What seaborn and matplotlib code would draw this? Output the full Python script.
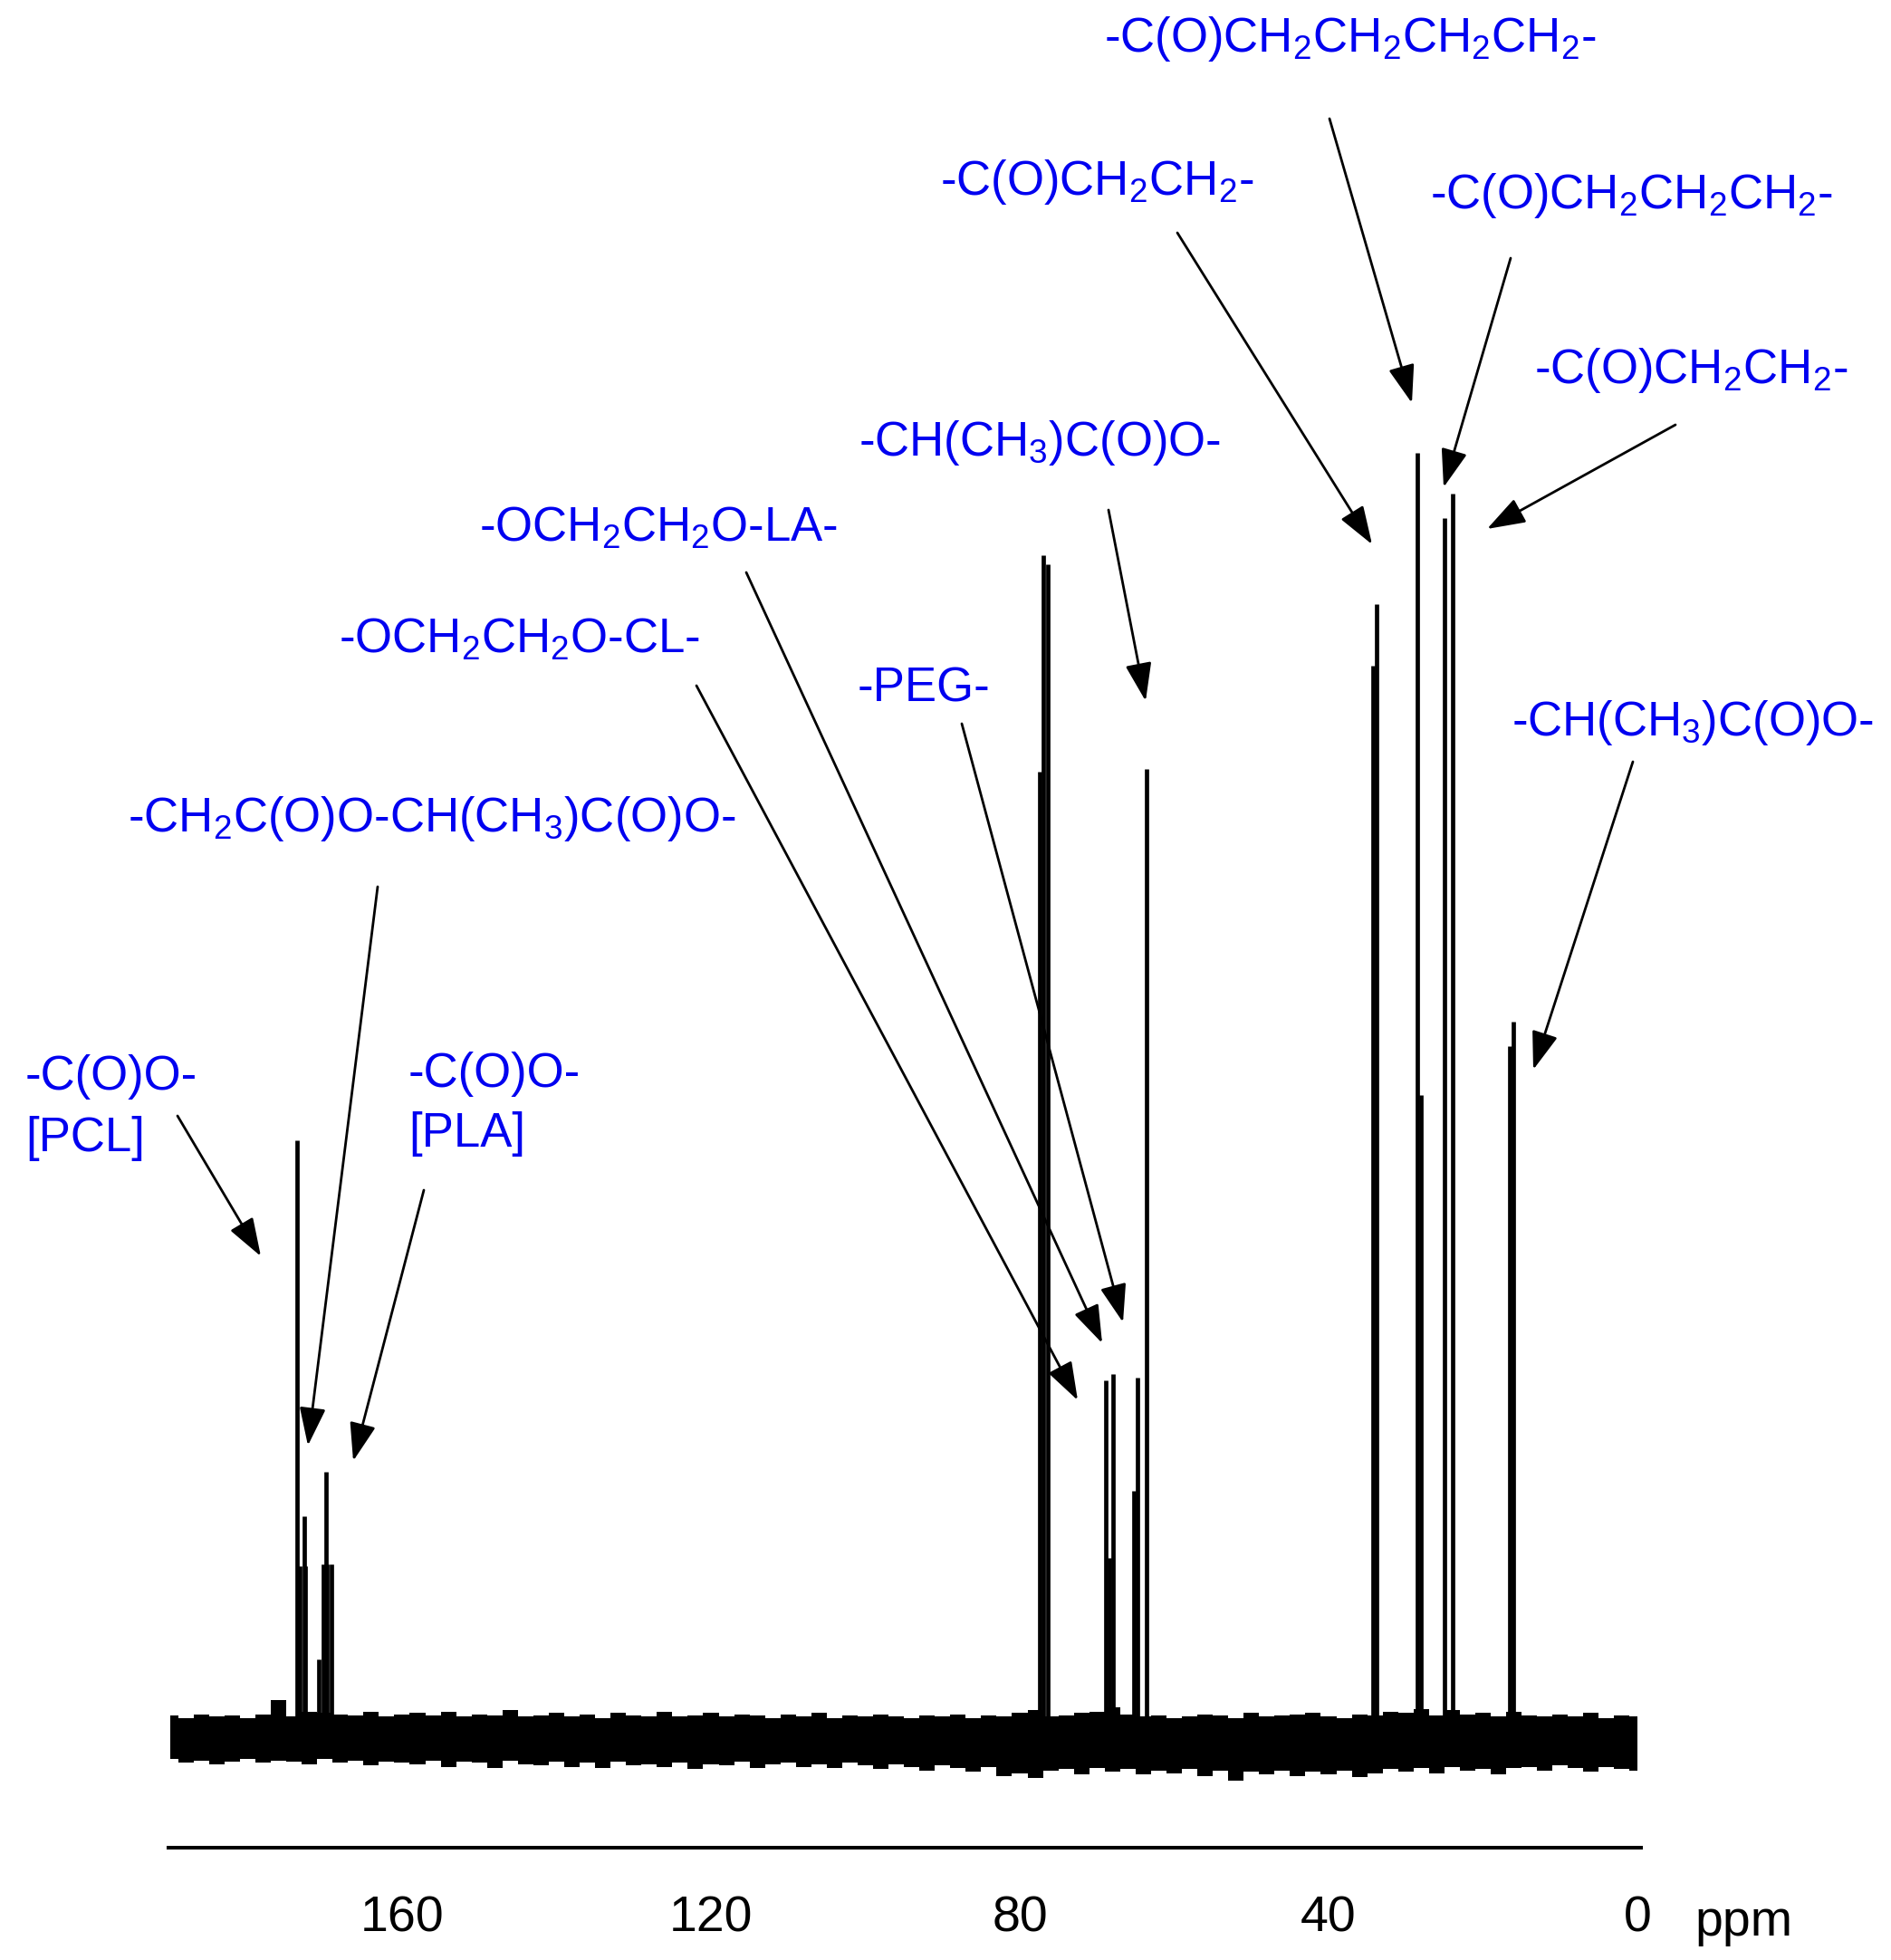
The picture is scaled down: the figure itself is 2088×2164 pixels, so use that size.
#!/usr/bin/env python3
"""
13C NMR spectrum of the PEG/PLA/PCL copolymer with peak assignments.
"""

import matplotlib
matplotlib.use("Agg")
import pandas as pd
import matplotlib.pyplot as plt
import seaborn as sns

sns.set_theme(style="white")
plt.rcParams['font.family'] = ['Liberation Sans', 'DejaVu Sans']
plt.rcParams['mathtext.fontset'] = 'custom'
plt.rcParams['mathtext.rm'] = 'Liberation Sans'
plt.rcParams['mathtext.it'] = 'Liberation Sans'
plt.rcParams['mathtext.bf'] = 'Liberation Sans:bold'

W, H = 2088, 2164
BLUE = '#0000f0'

# Resonances: chemical shift (ppm) and relative intensity (tallest line = 100)
peak_ppm = [173.6, 173.2, 172.7, 172.5, 170.8, 170.2, 169.85, 169.7, 169.1,
            77.4, 76.9, 76.4,
            68.9, 68.4, 67.9,
            65.2, 64.7, 63.6,
            34.25, 33.8,
            28.5, 28.0,
            25.0, 23.9,
            16.5, 16.1]
peak_int = [46.5, 13.3, 17.2, 13.3, 6.1, 13.5, 20.7, 13.5, 13.5,
            75.2, 92.0, 91.3,
            27.8, 14.0, 28.3,
            19.2, 28.0, 75.4,
            83.4, 88.2,
            100.0, 50.0,
            94.9, 96.8,
            53.8, 55.7]

# Baseline noise envelope, read every 2 ppm from 190 down to 0
noise_ppm = list(range(190, -1, -2))
noise_hi = [1.7, 1.5, 1.8, 1.6, 1.7, 1.5, 1.8, 2.9,
            1.6, 2.0, 1.9, 1.8, 1.7, 2.0, 1.6, 1.8,
            1.9, 1.7, 2.0, 1.6, 1.8, 1.7, 2.1, 1.6,
            1.7, 1.9, 1.6, 1.8, 1.5, 1.9, 1.7, 1.6,
            2.0, 1.6, 1.7, 1.9, 1.6, 1.8, 1.7, 1.5,
            1.8, 1.6, 1.9, 1.5, 1.7, 1.6, 1.8, 1.6,
            1.5, 1.7, 1.6, 1.8, 1.5, 1.7, 1.6, 1.9,
            2.1, 1.6, 1.7, 1.9, 2.0, 2.3, 1.8, 1.6,
            1.7, 1.5, 1.6, 1.8, 1.7, 1.5, 1.9, 1.6,
            1.7, 1.8, 1.9, 1.6, 1.5, 1.8, 1.7, 2.0,
            1.9, 2.2, 1.7, 2.1, 1.8, 1.9, 1.6, 2.0,
            1.7, 1.6, 1.8, 1.6, 1.9, 1.5, 1.7, 1.6]
noise_lo = [-1.7, -2.0, -1.8, -2.1, -1.9, -1.7, -2.0, -1.8,
            -1.9, -2.1, -1.7, -2.0, -1.8, -2.2, -1.9, -2.0,
            -2.1, -1.8, -2.3, -1.9, -2.0, -2.4, -1.8, -2.1,
            -2.2, -1.9, -2.3, -2.0, -2.4, -1.9, -2.2, -2.1,
            -2.3, -2.0, -2.5, -2.1, -2.2, -1.9, -2.4, -2.1,
            -2.0, -2.3, -2.1, -2.4, -2.0, -2.2, -2.5, -2.1,
            -2.3, -2.6, -2.2, -2.4, -2.7, -2.3, -3.0, -2.8,
            -3.2, -2.6, -2.5, -2.9, -2.4, -2.7, -2.5, -2.9,
            -2.6, -2.8, -2.5, -3.0, -2.6, -3.4, -2.7, -2.9,
            -2.6, -3.0, -2.7, -2.9, -2.6, -3.1, -2.8, -2.5,
            -2.7, -2.4, -2.8, -2.3, -2.6, -2.5, -2.9, -2.4,
            -2.3, -2.6, -2.2, -2.4, -2.7, -2.3, -2.5, -2.6]

tick_ppm = [160, 120, 80, 40, 0]

# Assignment labels: text, left/baseline position, arrow tail, arrow tip (image pixels)
labels = [
    (r'-C(O)CH$_2$CH$_2$CH$_2$CH$_2$-', (1219, 57), (1468, 131), (1559, 445)),
    (r'-C(O)CH$_2$CH$_2$-', (1038, 215), (1300, 257), (1515, 601)),
    (r'-C(O)CH$_2$CH$_2$CH$_2$-', (1579, 230), (1668, 285), (1594, 538)),
    (r'-C(O)CH$_2$CH$_2$-', (1694, 423), (1850, 469), (1642, 584)),
    (r'-CH(CH$_3$)C(O)O-', (948, 503), (1224, 563), (1265, 774)),
    (r'-OCH$_2$CH$_2$O-LA-', (529, 598), (824, 632), (1217, 1483)),
    (r'-OCH$_2$CH$_2$O-CL-', (374, 721), (769, 757), (1190, 1546)),
    ('-PEG-', (947, 775), (1062, 799), (1240, 1460)),
    (r'-CH$_2$C(O)O-CH(CH$_3$)C(O)O-', (141, 918), (417, 979), (340, 1596)),
    ('-C(O)O-', (28, 1203), (196, 1232), (288, 1387)),
    ('-C(O)O-', (451, 1200), (468, 1314), (390, 1613)),
    (r'-CH(CH$_3$)C(O)O-', (1669, 812), (1803, 841), (1693, 1181)),
]
sub_labels = [('[PCL]', (28, 1271)), ('[PLA]', (451, 1266))]


def main():
    peaks = pd.DataFrame({'ppm': peak_ppm, 'intensity': peak_int})
    noise = pd.DataFrame({'ppm': noise_ppm, 'hi': noise_hi, 'lo': noise_lo})

    fig = plt.figure(figsize=(W / 100, H / 100), dpi=100)
    ax = fig.add_axes([186 / W, 124 / H, 1626 / W, 2040 / H])

    # baseline noise and resonances
    ax.fill_between(noise['ppm'], noise['lo'], noise['hi'], step='mid',
                    color='black', linewidth=0)
    ax.vlines(peaks['ppm'], 0, peaks['intensity'], color='black', linewidth=3.4)

    ax.set_xlim(190.26, -0.47)
    ax.set_ylim(-8.6, 135.26)
    ax.set_xticks(tick_ppm)
    ax.set_xticklabels([str(t) for t in tick_ppm])
    ax.set_yticks([])
    ax.tick_params(axis='x', length=0, pad=38, labelsize=40, labelcolor='black')
    sns.despine(ax=ax, left=True, top=True, right=True)
    ax.spines['bottom'].set_color('black')
    ax.spines['bottom'].set_linewidth(2.9)
    ax.grid(False)

    fig.text(1871 / W, 1 - 2137 / H, 'ppm', fontsize=40, color='black',
             ha='left', va='baseline')

    arrow = dict(arrowstyle='-|>,head_length=1.3,head_width=0.45',
                 mutation_scale=20, lw=2.0, color='black',
                 shrinkA=0, shrinkB=0)
    for text, (tx, ty), (sx, sy), (ex, ey) in labels:
        fig.text(tx / W, 1 - ty / H, text, fontsize=38, color=BLUE,
                 ha='left', va='baseline')
        ax.annotate('', xy=(ex, H - ey), xycoords='figure pixels',
                    xytext=(sx, H - sy), textcoords='figure pixels',
                    arrowprops=arrow)
    for text, (tx, ty) in sub_labels:
        fig.text(tx / W, 1 - ty / H, text, fontsize=38, color=BLUE,
                 ha='left', va='baseline')

    fig.savefig('out.png', dpi=100, facecolor='white')
    plt.close(fig)


if __name__ == "__main__":
    main()
